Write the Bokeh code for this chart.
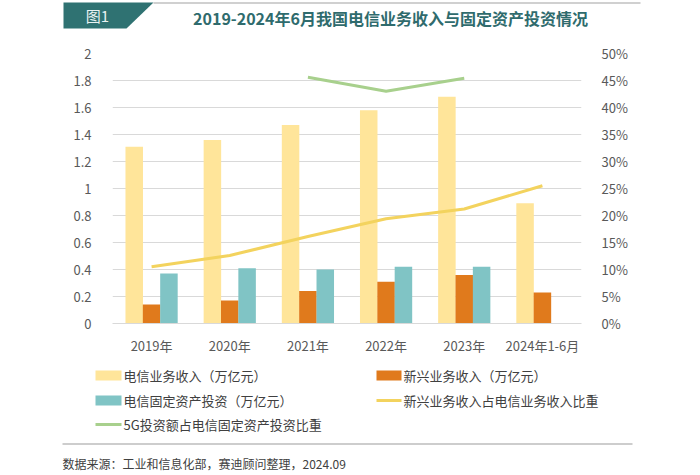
from bokeh.plotting import figure
from bokeh.layouts import column, row
from bokeh.models import (ColumnDataSource, FactorRange, Range1d, LinearAxis, FixedTicker,
                          CustomJSTickFormatter)
from bokeh.core.properties import value
from bokeh.transform import dodge
from bokeh.embed import file_html
from bokeh.resources import INLINE

nan = float("nan")

# ---------------- data ----------------
categories = ["2019年", "2020年", "2021年", "2022年", "2023年", "2024年1-6月"]
telecom_revenue = [1.31, 1.36, 1.47, 1.58, 1.68, 0.89]          # 万亿元
emerging_revenue = [0.14, 0.17, 0.24, 0.31, 0.36, 0.23]         # 万亿元
fixed_investment = [0.37, 0.41, 0.40, 0.42, 0.42, nan]          # 万亿元
emerging_share = [10.5, 12.6, 16.1, 19.4, 21.2, 25.5]           # %
fiveg_share = [nan, nan, 45.6, 43.0, 45.4, nan]                 # %
left_ticks = [0, 0.2, 0.4, 0.6, 0.8, 1, 1.2, 1.4, 1.6, 1.8, 2]
right_ticks = [0, 5, 10, 15, 20, 25, 30, 35, 40, 45, 50]

names = ["电信业务收入（万亿元）", "新兴业务收入（万亿元）", "电信固定资产投资（万亿元）",
         "新兴业务收入占电信业务收入比重", "5G投资额占电信固定资产投资比重"]
title_text = "2019-2024年6月我国电信业务收入与固定资产投资情况"
badge_text = "图1"
source_text = "数据来源：工业和信息化部，赛迪顾问整理，2024.09"

C_YEL = "#FFE59A"
C_ORA = "#E07A1C"
C_TEA = "#80C4C5"
C_LYEL = "#F3D35E"
C_GRN = "#A8D08D"
TXT = "#404040"
TICK = "#595959"
FONT = "Noto Sans CJK SC"
W = 700
H_HEAD, H_MAIN = 40, 317
H_FOOT = 475 - H_HEAD - H_MAIN


def blank(h, y0, y1):
    f = figure(width=W, height=h, x_range=Range1d(0, W), y_range=Range1d(y1, y0),
               output_backend="svg", toolbar_location=None,
               x_axis_location=None, y_axis_location=None,
               min_border=0, min_border_left=0, min_border_right=0,
               min_border_top=0, min_border_bottom=0)
    f.outline_line_color = None
    f.xgrid.visible = False
    f.ygrid.visible = False
    return f


def txt(f, x, y, s, size="13px", color=TXT, align="left", style="normal"):
    f.text(x=[x], y=[y], text=[s], text_font=value(FONT), text_font_size=size,
           text_color=color, text_align=align, text_baseline="middle",
           text_font_style=style)


def hrule(f, x0, x1, y, color, thick=1.5):
    f.rect(x=[(x0 + x1) / 2], y=[y], width=[x1 - x0], height=[thick],
           fill_color=color, fill_alpha=1.0, line_color=None)


# ---------------- header (page y 0..40) ----------------
hd = blank(H_HEAD, 0, H_HEAD)
hd.patch(x=[63, 153, 126, 63], y=[2, 2, 28, 28], fill_color="#2F7272", line_color=None)
hrule(hd, 153, 640, 2.5, "#C0C0C0")
txt(hd, 97, 15, badge_text, size="15px", color="#EAF2F2", align="center")
txt(hd, 390, 17, title_text, size="16px", color="#2F6B6D", align="center", style="bold")

# ---------------- main chart ----------------
src = ColumnDataSource(dict(cat=categories, rev=telecom_revenue, emg=emerging_revenue,
                            inv=fixed_investment, es=emerging_share, fg=fiveg_share))

FL, FR = 112, 581
p = figure(x_range=FactorRange(*categories), y_range=Range1d(0, 2),
           width=W, height=H_MAIN, output_backend="svg", toolbar_location=None,
           min_border_left=FL, min_border_right=W - FR,
           min_border_top=13, min_border_bottom=33)
p.outline_line_color = None
p.extra_y_ranges = {"pct": Range1d(0, 50)}

bw = 0.224
off = 0.222
p.vbar(x=dodge("cat", -off, range=p.x_range), top="rev", width=bw, source=src,
       fill_color=C_YEL, line_color=None)
p.vbar(x=dodge("cat", 0, range=p.x_range), top="emg", width=bw, source=src,
       fill_color=C_ORA, line_color=None)
p.vbar(x=dodge("cat", off, range=p.x_range), top="inv", width=bw, source=src,
       fill_color=C_TEA, line_color=None)
p.line(x="cat", y="es", source=src, y_range_name="pct", line_color=C_LYEL, line_width=3)
p.line(x="cat", y="fg", source=src, y_range_name="pct", line_color=C_GRN, line_width=3)

p.xaxis.axis_line_color = "#D9D9D9"
p.xaxis.major_tick_line_color = None
p.xaxis.minor_tick_line_color = None
p.xaxis.major_label_standoff = 6
p.xaxis.major_label_text_font = FONT
p.xaxis.major_label_text_font_size = "13px"
p.xaxis.major_label_text_color = TICK

p.yaxis.ticker = FixedTicker(ticks=left_ticks)
p.yaxis.formatter = CustomJSTickFormatter(code="return String(Number(tick.toFixed(1)));")
p.yaxis.axis_line_color = None
p.yaxis.major_tick_line_color = None
p.yaxis.minor_tick_line_color = None
p.yaxis.major_label_standoff = 15
p.yaxis.major_label_text_font = FONT
p.yaxis.major_label_text_font_size = "13px"
p.yaxis.major_label_text_color = TICK

ra = LinearAxis(y_range_name="pct", ticker=FixedTicker(ticks=right_ticks),
                formatter=CustomJSTickFormatter(code="return tick.toFixed(0) + '%';"))
ra.axis_line_color = None
ra.major_tick_line_color = None
ra.minor_tick_line_color = None
ra.major_label_standoff = 14
ra.major_label_text_font = FONT
ra.major_label_text_font_size = "13px"
ra.major_label_text_color = TICK
p.add_layout(ra, "right")

p.xgrid.grid_line_color = None
p.ygrid.grid_line_color = "#D9D9D9"
p.ygrid.ticker = FixedTicker(ticks=left_ticks)

# ---------------- legend + footer ----------------
y_top = H_HEAD + H_MAIN
ft = blank(H_FOOT, y_top, 475)
rows = [375, 400, 424]
col1_sw, col1_tx = (95, 121), 123
col2_sw, col2_tx = (376, 401), 403


def bar_sw(f, xs, y, color):
    f.quad(left=[xs[0]], right=[xs[1]], top=[y - 5], bottom=[y + 5],
           fill_color=color, line_color=None)


def line_sw(f, xs, y, color):
    f.quad(left=[xs[0]], right=[xs[1]], top=[y - 1.5], bottom=[y + 1.5],
           fill_color=color, line_color=None)


bar_sw(ft, col1_sw, rows[0], C_YEL)
txt(ft, col1_tx, rows[0], names[0])
bar_sw(ft, col1_sw, rows[1], C_TEA)
txt(ft, col1_tx, rows[1], names[2])
line_sw(ft, col1_sw, rows[2], C_GRN)
txt(ft, col1_tx, rows[2], names[4])
bar_sw(ft, col2_sw, rows[0], C_ORA)
txt(ft, col2_tx, rows[0], names[1])
line_sw(ft, col2_sw, rows[1], C_LYEL)
txt(ft, col2_tx, rows[1], names[3])

hrule(ft, 62, 632, 443.5, "#BDBDBD")
txt(ft, 62, 463, source_text, size="12px", color=TXT)

layout = column(row(hd), row(p), row(ft), spacing=0)
open("out.html", "w").write(file_html(layout, INLINE))
